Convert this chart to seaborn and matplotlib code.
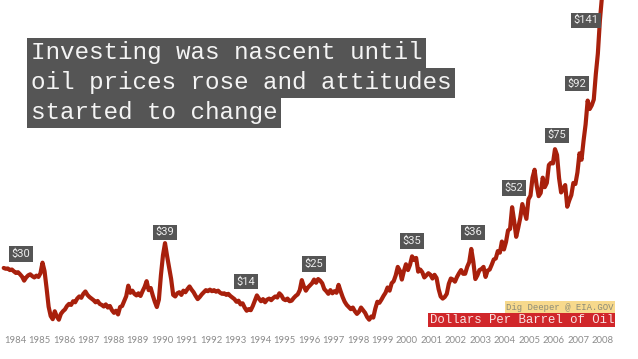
import numpy as np
import pandas as pd
import matplotlib
matplotlib.use('Agg')
import matplotlib.pyplot as plt
import seaborn as sns

# monthly oil price (Jan 1984 .. Jul 2008)
prices = [
    31.2, 30.9, 31.0, 30.4, 30.6, 29.9, 29.3, 29.6, 28.8, 27.9, 26.4, 27.6,  # 1984
    28.4, 28.8, 28.1, 27.6, 28.3, 27.8, 29.2, 33.2, 30.0, 23.5, 16.5, 13.0,  # 1985
    11.8, 14.8, 12.8, 11.6, 13.8, 14.8, 15.5, 16.8, 17.6, 17.2, 18.6, 18.2,  # 1986
    19.6, 20.4, 19.9, 21.4, 22.3, 21.0, 20.2, 19.6, 19.0, 18.2, 18.7, 17.6,  # 1987
    17.2, 16.6, 17.4, 16.2, 16.8, 15.2, 14.2, 15.0, 13.6, 16.4, 16.8, 18.6,  # 1988
    20.5, 24.5, 21.8, 22.6, 21.4, 20.8, 21.6, 20.6, 22.4, 24.0, 26.2, 22.8,  # 1989
    23.6, 20.8, 18.4, 16.4, 19.2, 28.5, 36.0, 40.6, 35.8, 31.5, 27.0, 21.0,  # 1990
    20.4, 21.6, 22.0, 21.0, 22.6, 22.0, 23.2, 24.2, 23.0, 22.0, 20.6, 19.4,  # 1991
    20.2, 21.2, 22.0, 22.8, 22.4, 23.0, 22.4, 22.8, 22.2, 22.6, 21.8, 21.4,  # 1992
    21.6, 21.0, 21.4, 20.6, 20.0, 19.4, 18.4, 18.8, 17.4, 17.8, 16.2, 15.0,  # 1993
    15.6, 15.2, 16.8, 18.8, 20.8, 19.6, 18.6, 19.4, 18.2, 19.2, 19.6, 19.0,  # 1994
    19.8, 20.4, 20.0, 21.6, 20.8, 19.4, 19.0, 19.6, 18.6, 18.8, 19.8, 20.6,  # 1995
    21.2, 22.8, 26.6, 24.2, 22.6, 23.8, 24.6, 25.4, 26.8, 25.6, 27.0, 26.4,  # 1996
    25.4, 23.2, 22.4, 21.4, 22.8, 21.6, 22.4, 21.8, 24.8, 22.4, 20.2, 18.4,  # 1997
    17.2, 16.4, 15.6, 16.2, 14.8, 13.8, 14.6, 16.2, 15.2, 14.2, 12.6, 11.6,  # 1998
    12.8, 12.4, 15.8, 18.4, 18.0, 19.2, 20.6, 21.8, 23.8, 22.6, 25.4, 26.2,  # 1999
    28.4, 31.6, 30.2, 26.8, 30.0, 32.6, 30.4, 32.4, 35.6, 34.2, 35.0, 29.8,  # 2000
    30.6, 29.6, 27.6, 28.4, 29.2, 28.6, 27.2, 28.6, 27.4, 23.2, 20.4, 19.6,  # 2001
    20.2, 21.4, 25.2, 27.2, 26.8, 26.0, 27.8, 29.2, 30.4, 29.0, 29.0, 31.6,  # 2002
    33.4, 38.4, 33.6, 27.0, 28.4, 30.4, 30.8, 31.6, 27.8, 30.2, 30.6, 32.4,  # 2003
    34.4, 34.8, 37.6, 37.0, 41.2, 38.2, 41.0, 45.4, 46.0, 54.2, 49.0, 43.0,  # 2004
    46.4, 50.2, 55.4, 52.6, 49.8, 57.2, 58.6, 65.4, 68.4, 62.6, 58.4, 59.6,  # 2005
    65.4, 61.8, 63.4, 70.2, 71.0, 70.8, 76.2, 74.0, 65.2, 59.8, 61.2, 62.6,  # 2006
    54.4, 56.8, 58.8, 63.4, 63.0, 67.4, 74.6, 72.2, 79.4, 85.6, 94.6, 91.4,  # 2007
    92.8, 95.0, 104.6, 112.4, 125.0, 133.8, 142.0,                          # 2008
]
years = list(range(1984, 2009))

# callout labels and where they sit (year, price)
callouts = ['$30', '$39', '$14', '$25', '$35', '$36', '$52', '$75', '$92', '$141']
callout_year = [1984.74, 1990.62, 1993.93, 1996.70, 2000.70, 2003.19, 2004.87, 2006.62, 2007.44, 2007.81]
callout_price = [36.5, 44.8, 26.1, 32.7, 41.4, 44.8, 61.5, 81.5, 100.9, 125.1]

title_lines = ['Investing was nascent until', 'oil prices rose and attitudes', 'started to change']

df = pd.DataFrame({'t': 1984 + (np.arange(len(prices)) + 0.5) / 12, 'price': prices})

sns.set_theme(style='white')
plt.rcParams['font.family'] = ['Roboto', 'DejaVu Sans']

fig = plt.figure(figsize=(6.38, 3.59), dpi=100)
ax = fig.add_axes([0, 29 / 359, 1, 330 / 359])
sns.lineplot(data=df, x='t', y='price', ax=ax, color='#a8200c', lw=3)

ax.set_xlim(1983.89, 2009.93)
ax.set_ylim(7.7, 132.7)
ax.set_xticks([y + 0.5 for y in years])
ax.set_xticklabels([str(y) for y in years], fontsize=6.8, color='#8c8c8c', family=['Lato', 'DejaVu Sans'])
ax.set_yticks([])
ax.tick_params(axis='x', length=0, pad=4)
ax.set_xlabel('')
ax.set_ylabel('')
sns.despine(ax=ax, left=True, bottom=True)

# price callouts
for txt, cx, cy in zip(callouts, callout_year, callout_price):
    ax.text(cx, cy, txt, ha='center', va='center', fontsize=8, color='#eeeeee',
            bbox=dict(boxstyle='square,pad=0.22', fc='#555555', ec='none'))

# headline, one box per line
for i, line in enumerate(title_lines):
    fig.text(31 / 638, 1 - (53 + i * 30) / 359, line, ha='left', va='center',
             fontsize=17.5, color='#f4f4f4', family='Liberation Mono',
             bbox=dict(boxstyle='square,pad=0.16', fc='#555555', ec='none'))

fig.text(614 / 638, 1 - 307 / 359, 'Dig Deeper @ EIA.GOV', ha='right', va='center',
         fontsize=6.4, color='#8a8a78', family='Liberation Mono',
         bbox=dict(boxstyle='square,pad=0.12', fc='#f7d98c', ec='none'))
fig.text(614 / 638, 1 - 320 / 359, 'Dollars Per Barrel of Oil', ha='right', va='center',
         fontsize=8.9, color='#f8e4e4', family='Liberation Mono',
         bbox=dict(boxstyle='square,pad=0.12', fc='#d0262a', ec='none'))

fig.savefig('out.png', dpi=100)
